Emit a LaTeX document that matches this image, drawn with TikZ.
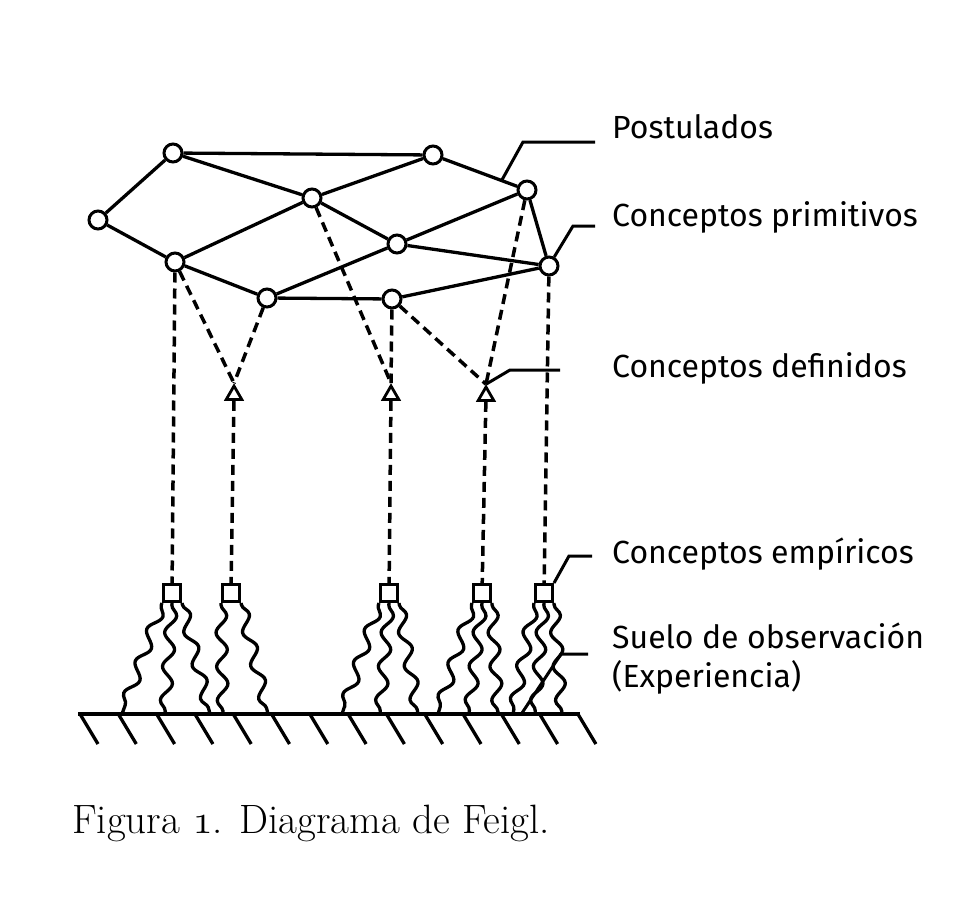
\documentclass[tikz,border=0pt]{standalone}
\usepackage{fontspec}
\usepackage{graphicx}
\newfontfamily\labelfont{Fira Sans}
\usetikzlibrary{shapes.geometric,decorations.pathmorphing,calc}
\newcommand{\osone}{\scalebox{1.648}{\fontsize{24.88}{30}\usefont{OML}{cmm}{m}{it}1}}
\begin{document}
\begin{tikzpicture}[x=1pt,y=-1pt,
  pnode/.style={circle,draw,line width=3pt,fill=white,minimum size=18pt,inner sep=0pt},
  tnode/.style={regular polygon,regular polygon sides=3,draw,line width=2.8pt,fill=white,minimum size=18pt,inner sep=0pt},
  snode/.style={rectangle,draw,line width=3pt,fill=white,minimum size=17pt,inner sep=0pt},
  edge/.style={line width=3.3pt},
  dedge/.style={line width=3.5pt,dash pattern=on 10pt off 6pt},
  wavy/.style={line width=3.3pt,decorate,decoration={snake,segment length=34pt,amplitude=5.5pt,pre length=2pt,post length=2pt}},
  leader/.style={line width=3pt},
  lbl/.style={anchor=base west,font=\labelfont\fontsize{32}{38}\selectfont,inner sep=0pt},
  caption/.style={anchor=base west,font=\fontsize{41}{49}\selectfont,inner sep=0pt}
]
\useasboundingbox (0,0) rectangle (963,907);

% primitive concepts (circles)
\node[pnode] (A) at (173,153) {};
\node[pnode] (B) at (433,155) {};
\node[pnode] (C) at (98,220) {};
\node[pnode] (D) at (312,198) {};
\node[pnode] (E) at (527,190) {};
\node[pnode] (F) at (175,262) {};
\node[pnode] (G) at (397,244) {};
\node[pnode] (H) at (549,266) {};
\node[pnode] (I) at (267,298) {};
\node[pnode] (J) at (392,299) {};

% defined concepts (triangles)
\node[tnode] (T1) at (234,395) {};
\node[tnode] (T2) at (391,395) {};
\node[tnode] (T3) at (486,396) {};

% empirical concepts (squares)
\node[snode] (S1) at (172,593) {};
\node[snode] (S2) at (231,593) {};
\node[snode] (S3) at (389,593) {};
\node[snode] (S4) at (482,593) {};
\node[snode] (S5) at (544,593) {};

% postulates (solid edges)
\draw[edge] (A) -- (B);
\draw[edge] (A) -- (C);
\draw[edge] (A) -- (D);
\draw[edge] (C) -- (F);
\draw[edge] (F) -- (D);
\draw[edge] (D) -- (B);
\draw[edge] (B) -- (E);
\draw[edge] (D) -- (G);
\draw[edge] (G) -- (E);
\draw[edge] (G) -- (H);
\draw[edge] (E) -- (H);
\draw[edge] (F) -- (I);
\draw[edge] (I) -- (G);
\draw[edge] (I) -- (J);
\draw[edge] (J) -- (H);

% definitions (dashed)
\draw[dedge] (F) -- (T1.corner 1);
\draw[dedge] (I) -- (T1.corner 1);
\draw[dedge] (D) -- (T2.corner 1);
\draw[dedge] (J) -- (T2.corner 1);
\draw[dedge] (J) -- (T3.corner 1);
\draw[dedge] (E) -- (T3.corner 1);
\draw[dedge] (F) -- (S1);
\draw[dedge] (T1) -- (S2);
\draw[dedge] (T2) -- (S3);
\draw[dedge] (T3) -- (S4);
\draw[dedge] (H) -- (S5);

% ground
\coordinate (gl) at (78,714);
\coordinate (gr) at (580,714);
\draw[edge] (gl) -- (gr);
\foreach \i in {0,...,13}
  \draw[edge] (80+\i*38.3,714) -- ++(18,30);

% wavy rules of correspondence
\coordinate (w11) at (122,714);
\coordinate (w12) at (165,714);
\coordinate (w13) at (210,714);
\coordinate (w21) at (223,714);
\coordinate (w22) at (268,714);
\coordinate (w31) at (342,714);
\coordinate (w32) at (380,714);
\coordinate (w33) at (418,714);
\coordinate (w41) at (438,714);
\coordinate (w42) at (469,714);
\coordinate (w43) at (498,714);
\coordinate (w51) at (513,714);
\coordinate (w52) at (535,714);
\coordinate (w53) at (562,714);
\draw[wavy] (S1.south west) -- (w11);
\draw[wavy] (S1.south) -- (w12);
\draw[wavy] (S1.south east) -- (w13);
\draw[wavy] (S2.south west) -- (w21);
\draw[wavy] (S2.south east) -- (w22);
\draw[wavy] (S3.south west) -- (w31);
\draw[wavy] (S3.south) -- (w32);
\draw[wavy] (S3.south east) -- (w33);
\draw[wavy] (S4.south west) -- (w41);
\draw[wavy] (S4.south) -- (w42);
\draw[wavy] (S4.south east) -- (w43);
\draw[wavy] (S5.south west) -- (w51);
\draw[wavy] (S5.south) -- (w52);
\draw[wavy] (S5.south east) -- (w53);

% leaders
\coordinate (lp0) at ($(B)!0.73!(E)$);
\coordinate (lp1) at (523,142);
\coordinate (lp2) at (595,142);
\draw[leader] (lp0) -- (lp1) -- (lp2);
\coordinate (lc1) at (573,226);
\coordinate (lc2) at (595,226);
\draw[leader] (H.60) -- (lc1) -- (lc2);
\coordinate (ld1) at (510,370);
\coordinate (ld2) at (560,370);
\draw[leader] (T3.corner 1) -- (ld1) -- (ld2);
\coordinate (le1) at (569,556);
\coordinate (le2) at (592,556);
\draw[leader] (S5.north east) -- (le1) -- (le2);
\coordinate (ls0) at (522,713);
\coordinate (ls1) at (561,654);
\coordinate (ls2) at (588,654);
\draw[leader] (ls0) -- (ls1) -- (ls2);

% labels
\node[lbl] (Lpost) at (612,138) {Postulados};
\node[lbl] (Lprim) at (612,226) {Conceptos primitivos};
\node[lbl] (Ldef) at (612,377) {Conceptos definidos};
\node[lbl] (Lemp) at (612,563) {Conceptos empíricos};
\node[lbl] (Lsue) at (612,648) {Suelo de observación};
\node[lbl] (Lexp) at (612,687) {(Experiencia)};

% caption
\node[caption] (cap) at (72,833) {Figura \osone. Diagrama de Feigl.};
\end{tikzpicture}
\end{document}
